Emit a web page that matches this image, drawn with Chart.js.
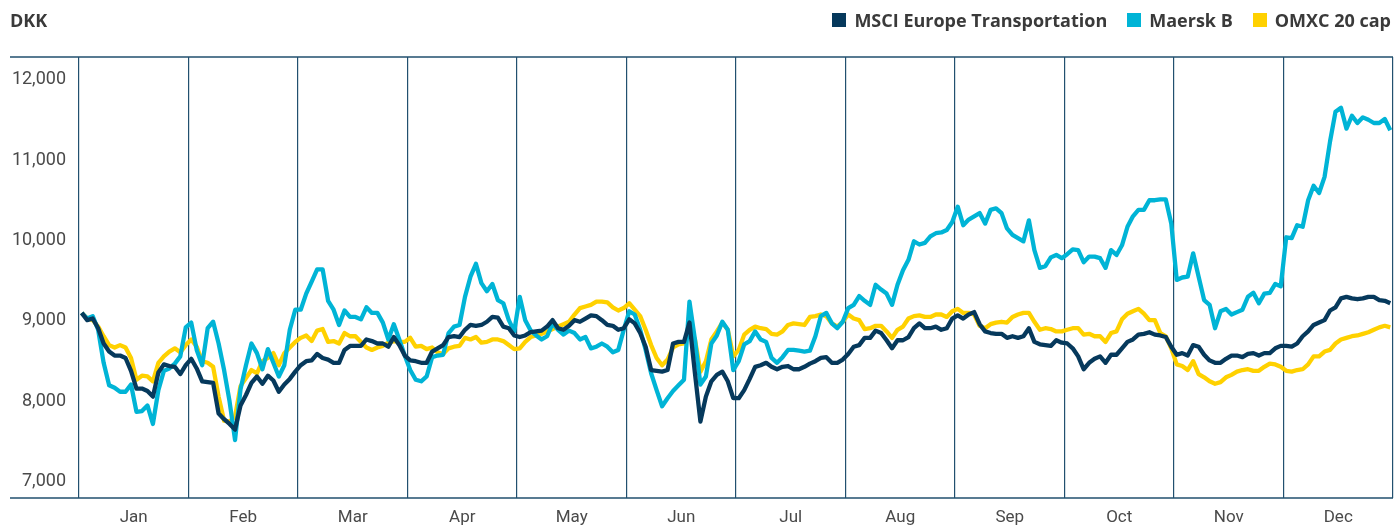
<!DOCTYPE html>
<html>
<head>
<meta charset="utf-8">
<script src="https://cdn.jsdelivr.net/npm/chart.js@4/dist/chart.umd.min.js"></script>
<style>
  body { margin: 0; background: #fff; font-family: Roboto, "Open Sans", sans-serif; }
  #wrap { position: relative; width: 1395px; height: 528px; }
  #unit { position: absolute; left: 10px; top: 8px; font-family: "Open Sans", sans-serif; font-weight: 700; font-size: 18px; color: #3a3a3a; }
  #legend { position: absolute; right: 4px; top: 8px; display: flex; font-family: "Open Sans", sans-serif; font-weight: 700; font-size: 18px; color: #3a3a3a; }
  #legend .item { display: flex; align-items: center; margin-left: 20px; }
  #legend .box { width: 14px; height: 14px; margin-right: 8px; }
</style>
</head>
<body>
<div id="wrap">
  <canvas id="chart" width="1395" height="528"></canvas>
  <div id="unit">DKK</div>
  <div id="legend"></div>
</div>
<script>
const months = ["Jan", "Feb", "Mar", "Apr", "May", "Jun", "Jul", "Aug", "Sep", "Oct", "Nov", "Dec"];
const pointsPerMonth = 20;
const yTicks = [7000, 8000, 9000, 10000, 11000, 12000];

// MSCI Europe Transportation (indexed, DKK)
const msciEurope = [
  9100, 9010, 9030, 8910, 8720, 8620, 8570, 8570, 8540, 8380, 8160, 8160, 8130, 8060, 8360, 8460, 8440, 8430, 8340, 8450,
  8530, 8410, 8250, 8240, 8230, 7850, 7780, 7720, 7650, 7950, 8080, 8230, 8310, 8220, 8320, 8260, 8120, 8210, 8280, 8370,
  8450, 8500, 8510, 8590, 8540, 8520, 8480, 8480, 8640, 8690, 8690, 8690, 8770, 8750, 8720, 8720, 8680, 8800, 8700, 8570,
  8510, 8500, 8480, 8480, 8620, 8660, 8700, 8800, 8810, 8800, 8890, 8950, 8940, 8950, 8990, 9050, 9040, 8930, 8910, 8820,
  8800, 8820, 8860, 8870, 8880, 8930, 9010, 8910, 8890, 8940, 9010, 8990, 9030, 9070, 9060, 9010, 8950, 8940, 8890, 8910,
  9020, 8970, 8850, 8680, 8390, 8380, 8370, 8390, 8720, 8740, 8740, 8980, 8350, 7750, 8060, 8250, 8330, 8370, 8250, 8040,
  8040, 8140, 8280, 8430, 8450, 8480, 8430, 8400, 8430, 8440, 8400, 8400, 8430, 8470, 8500, 8540, 8550, 8480, 8480, 8520,
  8590, 8680, 8700, 8790, 8790, 8880, 8850, 8760, 8660, 8760, 8760, 8800, 8910, 8970, 8910, 8910, 8930, 8890, 8910, 9030,
  9070, 9030, 9080, 9110, 8960, 8870, 8850, 8840, 8840, 8790, 8810, 8790, 8810, 8910, 8740, 8710, 8700, 8690, 8760, 8730,
  8720, 8660, 8560, 8400, 8480, 8530, 8560, 8480, 8580, 8580, 8660, 8740, 8770, 8830, 8840, 8860, 8830, 8820, 8800, 8680,
  8580, 8600, 8570, 8700, 8680, 8580, 8510, 8480, 8480, 8530, 8570, 8570, 8550, 8590, 8600, 8570, 8600, 8600, 8660, 8690,
  8690, 8680, 8720, 8810, 8870, 8950, 8980, 9010, 9130, 9170, 9280, 9300, 9280, 9270, 9280, 9300, 9300, 9260, 9250, 9220
];

// Maersk B
const maerskB = [
  9100, 9030, 9060, 8890, 8480, 8200, 8170, 8120, 8120, 8210, 7870, 7880, 7950, 7720, 8140, 8380, 8410, 8470, 8560, 8920,
  8980, 8640, 8450, 8910, 8990, 8720, 8390, 8000, 7520, 8150, 8450, 8720, 8600, 8400, 8650, 8480, 8310, 8450, 8890, 9140,
  9140, 9340, 9490, 9640, 9640, 9250, 9140, 8950, 9130, 9050, 9050, 9020, 9170, 9100, 9100, 8980, 8770, 8960, 8770, 8570,
  8390, 8270, 8250, 8310, 8550, 8570, 8580, 8850, 8930, 8950, 9300, 9550, 9710, 9470, 9370, 9460, 9260, 9220, 9010, 8870,
  9300, 9010, 8880, 8820, 8770, 8810, 8970, 8890, 8830, 8880, 8850, 8770, 8800, 8660, 8680, 8720, 8680, 8610, 8640, 8890,
  9120, 9080, 8890, 8640, 8350, 8140, 7940, 8040, 8130, 8200, 8270, 9240, 8770, 8210, 8310, 8720, 8820, 8990, 8890, 8390,
  8500, 8710, 8750, 8870, 8770, 8740, 8540, 8480, 8550, 8640, 8640, 8630, 8620, 8630, 8810, 9060, 9100, 8970, 8910, 8990,
  9160, 9200, 9310, 9250, 9200, 9450, 9390, 9340, 9200, 9450, 9630, 9760, 9990, 9950, 9970, 10050, 10090, 10100, 10130, 10230,
  10420, 10190, 10260, 10300, 10340, 10210, 10380, 10400, 10340, 10150, 10070, 10030, 9990, 10250, 9880, 9660, 9680, 9790, 9820, 9780,
  9830, 9890, 9880, 9730, 9800, 9800, 9780, 9660, 9880, 9820, 9940, 10170, 10300, 10380, 10380, 10500, 10500, 10510, 10510, 10210,
  9510, 9540, 9550, 9840, 9550, 9260, 9200, 8910, 9120, 9150, 9080, 9110, 9140, 9300, 9350, 9220, 9340, 9350, 9460, 9430,
  10040, 10030, 10190, 10170, 10500, 10680, 10590, 10790, 11230, 11600, 11650, 11390, 11550, 11460, 11530, 11500, 11460, 11460, 11510, 11370
];

// OMXC 20 cap
const omxc20 = [
  9100, 9030, 9010, 8930, 8810, 8700, 8670, 8700, 8670, 8540, 8270, 8320, 8310, 8250, 8480, 8560, 8620, 8660, 8610, 8700,
  8770, 8680, 8500, 8480, 8430, 8060, 7760, 7750, 7810, 8190, 8290, 8390, 8350, 8500, 8540, 8600, 8450, 8600, 8670, 8740,
  8790, 8820, 8750, 8880, 8900, 8740, 8750, 8720, 8850, 8810, 8810, 8740, 8670, 8640, 8670, 8690, 8730, 8750, 8740, 8740,
  8790, 8680, 8690, 8650, 8670, 8610, 8590, 8660, 8680, 8690, 8790, 8770, 8800, 8730, 8740, 8770, 8770, 8750, 8700, 8650,
  8660, 8740, 8800, 8820, 8840, 8870, 8900, 8930, 8960, 8990, 9080, 9160, 9180, 9200, 9240, 9240, 9230, 9170, 9130, 9160,
  9220, 9140, 9060, 8890, 8700, 8540, 8450, 8520, 8670, 8710, 8720, 8930, 8770, 8370, 8500, 8770, 8870, 8980, 8890, 8560,
  8640, 8830, 8890, 8930, 8910, 8900, 8840, 8830, 8870, 8950, 8970, 8960, 8950, 9050, 9060, 9080, 9060, 8970, 8930, 8990,
  9080, 9030, 9010, 8900, 8910, 8940, 8940, 8870, 8790, 8890, 8930, 9030, 9060, 9070, 9050, 9050, 9080, 9080, 9050, 9120,
  9150, 9100, 9100, 9080, 8940, 8910, 8960, 8980, 8990, 8980, 9050, 9080, 9100, 9100, 8990, 8890, 8910, 8900, 8870, 8870,
  8890, 8910, 8910, 8830, 8840, 8810, 8810, 8740, 8850, 8870, 9020, 9090, 9120, 9150, 9090, 9010, 9010, 8850, 8810, 8660,
  8460, 8440, 8390, 8500, 8340, 8300, 8250, 8220, 8240, 8300, 8330, 8370, 8390, 8400, 8380, 8380, 8430, 8470, 8460, 8430,
  8380, 8370, 8390, 8400, 8460, 8560, 8560, 8620, 8640, 8720, 8770, 8790, 8810, 8820, 8840, 8860, 8890, 8920, 8940, 8920
];

const seriesNames = ["MSCI Europe Transportation", "Maersk B", "OMXC 20 cap"];
const seriesColors = ["#06395c", "#00b4d6", "#ffd100"];
const gridColor = "#22506f";
const textColor = "#4a4a4a";

// one label per trading point, 20 per month
const dayLabels = months.flatMap(m => Array.from({ length: pointsPerMonth }, (_, j) => m + " " + (j + 1)));

// top and bottom rules that run out under the y labels
const frameLines = {
  id: "frameLines",
  beforeDatasetsDraw(chart) {
    const { ctx, chartArea } = chart;
    ctx.save();
    ctx.strokeStyle = gridColor;
    ctx.lineWidth = 1.5;
    ctx.beginPath();
    ctx.moveTo(10, chartArea.top);
    ctx.lineTo(chartArea.right, chartArea.top);
    ctx.moveTo(10, chartArea.bottom);
    ctx.lineTo(chartArea.right, chartArea.bottom);
    ctx.stroke();
    ctx.restore();
  }
};

const chart = new Chart(document.getElementById("chart").getContext("2d"), {
  type: "line",
  data: {
    datasets: [msciEurope, maerskB, omxc20].map((values, i) => ({
      label: seriesNames[i],
      data: values,
      borderColor: seriesColors[i],
      backgroundColor: seriesColors[i],
      borderWidth: 4.3,
      pointRadius: 0,
      tension: 0,
      borderJoinStyle: "round",
      xAxisID: "x",
      yAxisID: "y"
    }))
  },
  options: {
    responsive: false,
    animation: false,
    layout: { padding: { top: 57, left: 10, right: 2, bottom: 0 } },
    plugins: {
      legend: { display: false },
      tooltip: { enabled: false }
    },
    scales: {
      x: {
        type: "category",
        labels: dayLabels,
        offset: true,
        display: false
      },
      xm: {
        type: "category",
        labels: months,
        position: "bottom",
        offset: true,
        grid: { offset: true, color: gridColor, lineWidth: 1.2, drawTicks: false },
        border: { display: false },
        ticks: { color: textColor, font: { family: "Roboto", size: 17 }, padding: 10, maxRotation: 0 },
        afterFit: s => { s.height = 30; }
      },
      y: {
        min: 6800,
        max: 12280,
        grid: { display: false, drawTicks: false },
        border: { display: false },
        afterBuildTicks: s => { s.ticks = yTicks.map(v => ({ value: v })); },
        ticks: {
          color: textColor,
          font: { family: "Roboto", size: 18 },
          padding: 13,
          callback: v => v.toLocaleString("en-US")
        },
        afterFit: s => { s.width = 69; }
      }
    }
  },
  plugins: [frameLines]
});

// legend
const legend = document.getElementById("legend");
seriesNames.forEach((name, i) => {
  const item = document.createElement("div");
  item.className = "item";
  item.innerHTML = `<span class="box" style="background:${seriesColors[i]}"></span>${name}`;
  legend.appendChild(item);
});
</script>
</body>
</html>
